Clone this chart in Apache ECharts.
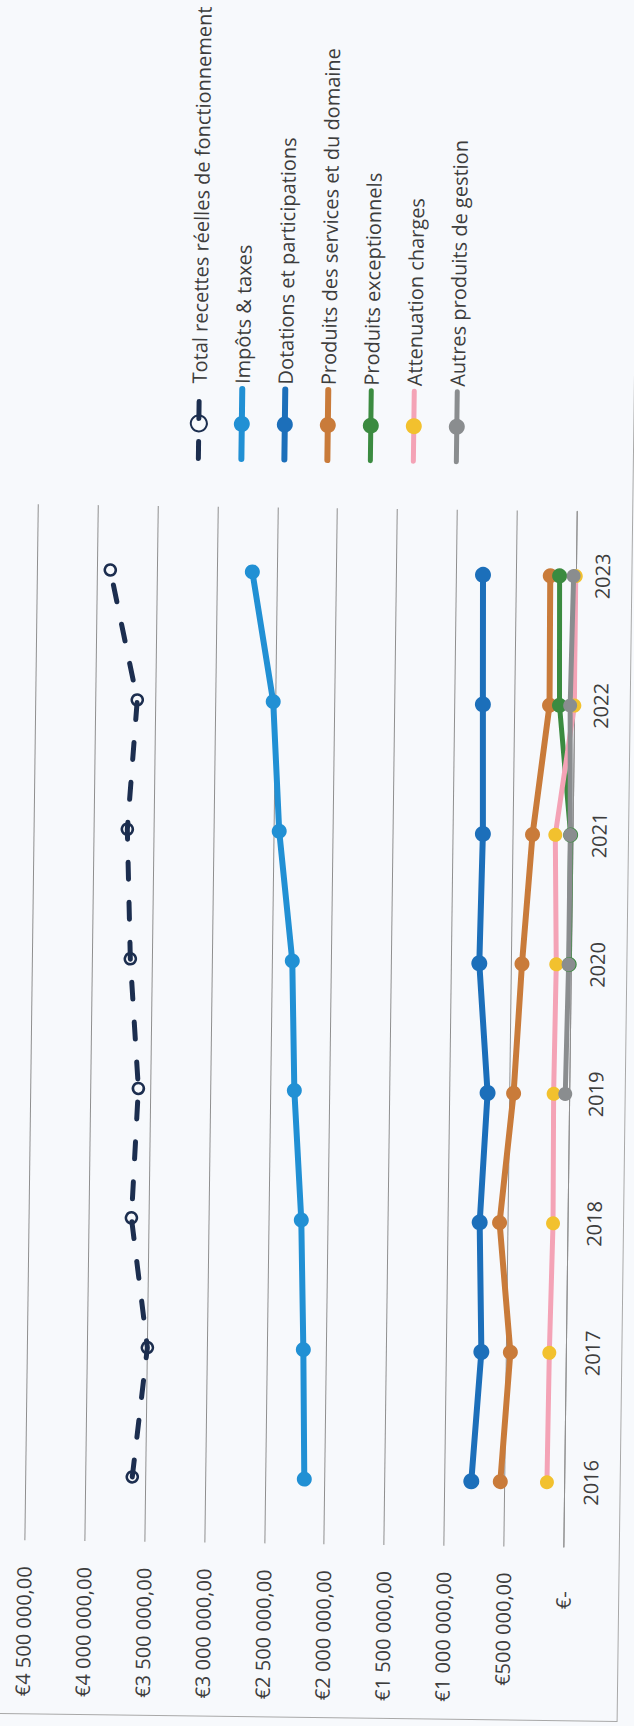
<!DOCTYPE html>
<html>
<head>
<meta charset="utf-8">
<script src="https://cdn.jsdelivr.net/npm/echarts@6/dist/echarts.min.js"></script>
<style>
  html, body { margin: 0; padding: 0; background: #f7f9fc; overflow: hidden; }
  /* the page is laid out sideways: the chart is drawn landscape and turned a quarter turn */
  #page { position: absolute; left: 0; top: 0; width: 634px; height: 1726px;
          transform-origin: 317px 1030px; transform: rotate(0.74deg); }
  #chart { position: absolute; left: 0; top: 0; width: 1726px; height: 634px;
           transform-origin: 0 0; transform: translate(0, 1726px) rotate(-90deg); }
</style>
</head>
<body>
<div id="page"><div id="chart"></div></div>
<script>
// Years on the category axis
const years = ['2016', '2017', '2018', '2019', '2020', '2021', '2022', '2023'];

// Recettes de fonctionnement (€)
const totalRecettes    = [3607000, 3495000, 3642000, 3598000, 3679000, 3718000, 3649000, 3888000];
const impotsTaxes      = [2172000, 2194000, 2225000, 2297000, 2328000, 2451000, 2515000, 2703000];
const dotations        = [779000, 709000, 737000, 685000, 768000, 752000, 766000, 779000];
const produitsServices = [537000, 467000, 571000, 468000, 412000, 338000, 210000, 218000];
const produitsExcept   = [null, null, null, null, 18000, 20000, 127000, 140000];
const attenuation      = [148000, 142000, 125000, 134000, 126000, 148000, 3000, 5000];
const autresProduits   = [null, null, null, 37000, 23000, 23000, 38000, 23000];

// Value axis ticks
const valueMin = 0, valueMax = 4500000, valueStep = 500000;

const FONT = '"Open Sans", sans-serif';
const TEXT = '#3d3d3d';

function euroLabel(v) {
  if (v === 0) return '{z|€-}';
  const s = String(Math.round(v)).replace(/\B(?=(\d{3})+(?!\d))/g, ' ');
  return '€' + s + ',00';
}

const chart = echarts.init(document.getElementById('chart'), null, {
  renderer: 'svg', width: 1726, height: 634
});

function lineSeries(name, data, lineColor, markColor, width, size) {
  return {
    name, type: 'line', data,
    symbol: 'circle', symbolSize: size,
    showAllSymbol: true,
    lineStyle: { color: lineColor, width: width, cap: 'round', join: 'round' },
    itemStyle: { color: markColor },
    emphasis: { disabled: true },
    animation: false
  };
}

const series = [
  {
    name: 'Total recettes réelles de fonctionnement', type: 'line', data: totalRecettes,
    symbol: 'circle', symbolSize: 11,
    lineStyle: { color: '#1c2e4f', width: 5, type: [17, 23], cap: 'round' },
    itemStyle: { color: 'rgba(0,0,0,0)', borderColor: '#1c2e4f', borderWidth: 2.5 },
    emphasis: { disabled: true },
    animation: false
  },
  lineSeries('Impôts & taxes', impotsTaxes, '#2190d4', '#2190d4', 6, 15),
  lineSeries('Dotations et participations', dotations, '#1c6fba', '#1c6fba', 6, 16),
  lineSeries('Produits des services et du domaine', produitsServices, '#c97b3a', '#c97b3a', 6, 15),
  lineSeries('Produits exceptionnels', produitsExcept, '#3b8b40', '#3b8b40', 5, 15),
  lineSeries('Attenuation charges', attenuation, '#f4a3b6', '#f2c12e', 5, 14),
  lineSeries('Autres produits de gestion', autresProduits, '#8a8d8f', '#8a8d8f', 5, 14)
];

chart.setOption({
  backgroundColor: 'transparent',
  animation: false,
  grid: { left: 182, right: 508, top: 31, bottom: 63.5, containLabel: false },
  xAxis: {
    type: 'category', data: years, boundaryGap: true,
    axisLine: { show: true, lineStyle: { color: '#8f8f8f', width: 1 } },
    axisTick: { show: false },
    axisLabel: { margin: 16, fontFamily: FONT, fontSize: 20, color: TEXT },
    splitLine: { show: false }
  },
  yAxis: {
    type: 'value', min: valueMin, max: valueMax, interval: valueStep,
    axisLine: { show: false }, axisTick: { show: false },
    axisLabel: {
      margin: 26, fontFamily: FONT, fontSize: 20, color: TEXT,
      formatter: euroLabel,
      rich: { z: { fontFamily: FONT, fontSize: 20, color: TEXT, padding: [0, 18, 0, 0] } }
    },
    splitLine: { show: true, lineStyle: { color: '#8f8f8f', width: 1 } }
  },
  legend: {
    orient: 'vertical', left: 1258, top: 176,
    itemWidth: 70, itemHeight: 20, itemGap: 23,
    lineStyle: { width: 'inherit', type: 'inherit', cap: 'round' },
    textStyle: { fontFamily: FONT, fontSize: 20, color: TEXT },
    selectedMode: false
  },
  graphic: [{
    type: 'polyline', silent: true,
    shape: { points: [[8.5, -10], [8.5, 626], [1740, 626]] },
    style: { stroke: '#a8a8a8', lineWidth: 1, fill: null }
  }],
  series
});
</script>
</body>
</html>
